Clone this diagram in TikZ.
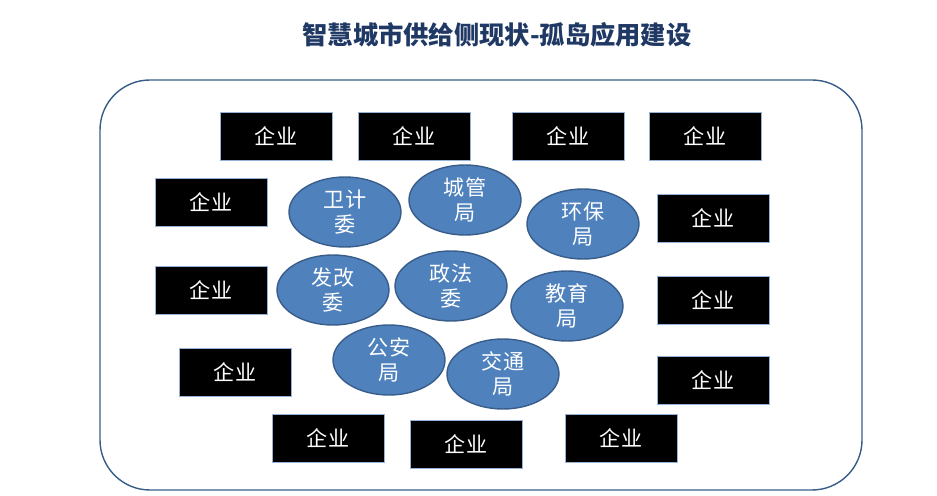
\documentclass[tikz,border=0pt]{standalone}
\usepackage{fontspec}
\setmainfont{Noto Sans CJK SC}
\usepackage{tikz}
\definecolor{frameblue}{HTML}{385D8A}
\definecolor{ovalblue}{HTML}{4F81BD}
\definecolor{titleblue}{HTML}{1F3864}
\tikzset{
  firm/.style={draw=ovalblue!60,fill=black,text=white,minimum width=2.24cm,minimum height=0.96cm,font=\large},
  bureau/.style={ellipse,draw=frameblue,thick,fill=ovalblue,text=white,minimum width=2.24cm,minimum height=1.4cm,align=center,font=\large,inner sep=0pt}
}
\usetikzlibrary{shapes.geometric}
\begin{document}
\begin{tikzpicture}[x=0.02cm,y=-0.02cm]
  \useasboundingbox (0,0) rectangle (937,496);
  \node[font=\Large\bfseries,text=titleblue] (title) at (497,35) {智慧城市供给侧现状-孤岛应用建设};
  \draw[frameblue,thick,rounded corners=1cm] (100,80) rectangle (862,490);
  % enterprises
  \foreach \px/\py [count=\i] in {276/136,414/136,568/136,705/136,211/202,713/218,
      211/290,713/300,235/372,713/380,328/438,466/444,621/438}
    \node[firm] (firm\i) at (\px,\py) {企业};
  % bureaus
  \node[bureau] (weiji)   at (345,212) {卫计\\委};
  \node[bureau] (chengguan) at (465,200) {城管\\局};
  \node[bureau] (huanbao) at (583,224) {环保\\局};
  \node[bureau] (fagai)   at (333,290) {发改\\委};
  \node[bureau] (zhengfa) at (451,286) {政法\\委};
  \node[bureau] (jiaoyu)  at (567,306) {教育\\局};
  \node[bureau] (gongan)  at (389,360) {公安\\局};
  \node[bureau] (jiaotong) at (503,374) {交通\\局};
\end{tikzpicture}
\end{document}
